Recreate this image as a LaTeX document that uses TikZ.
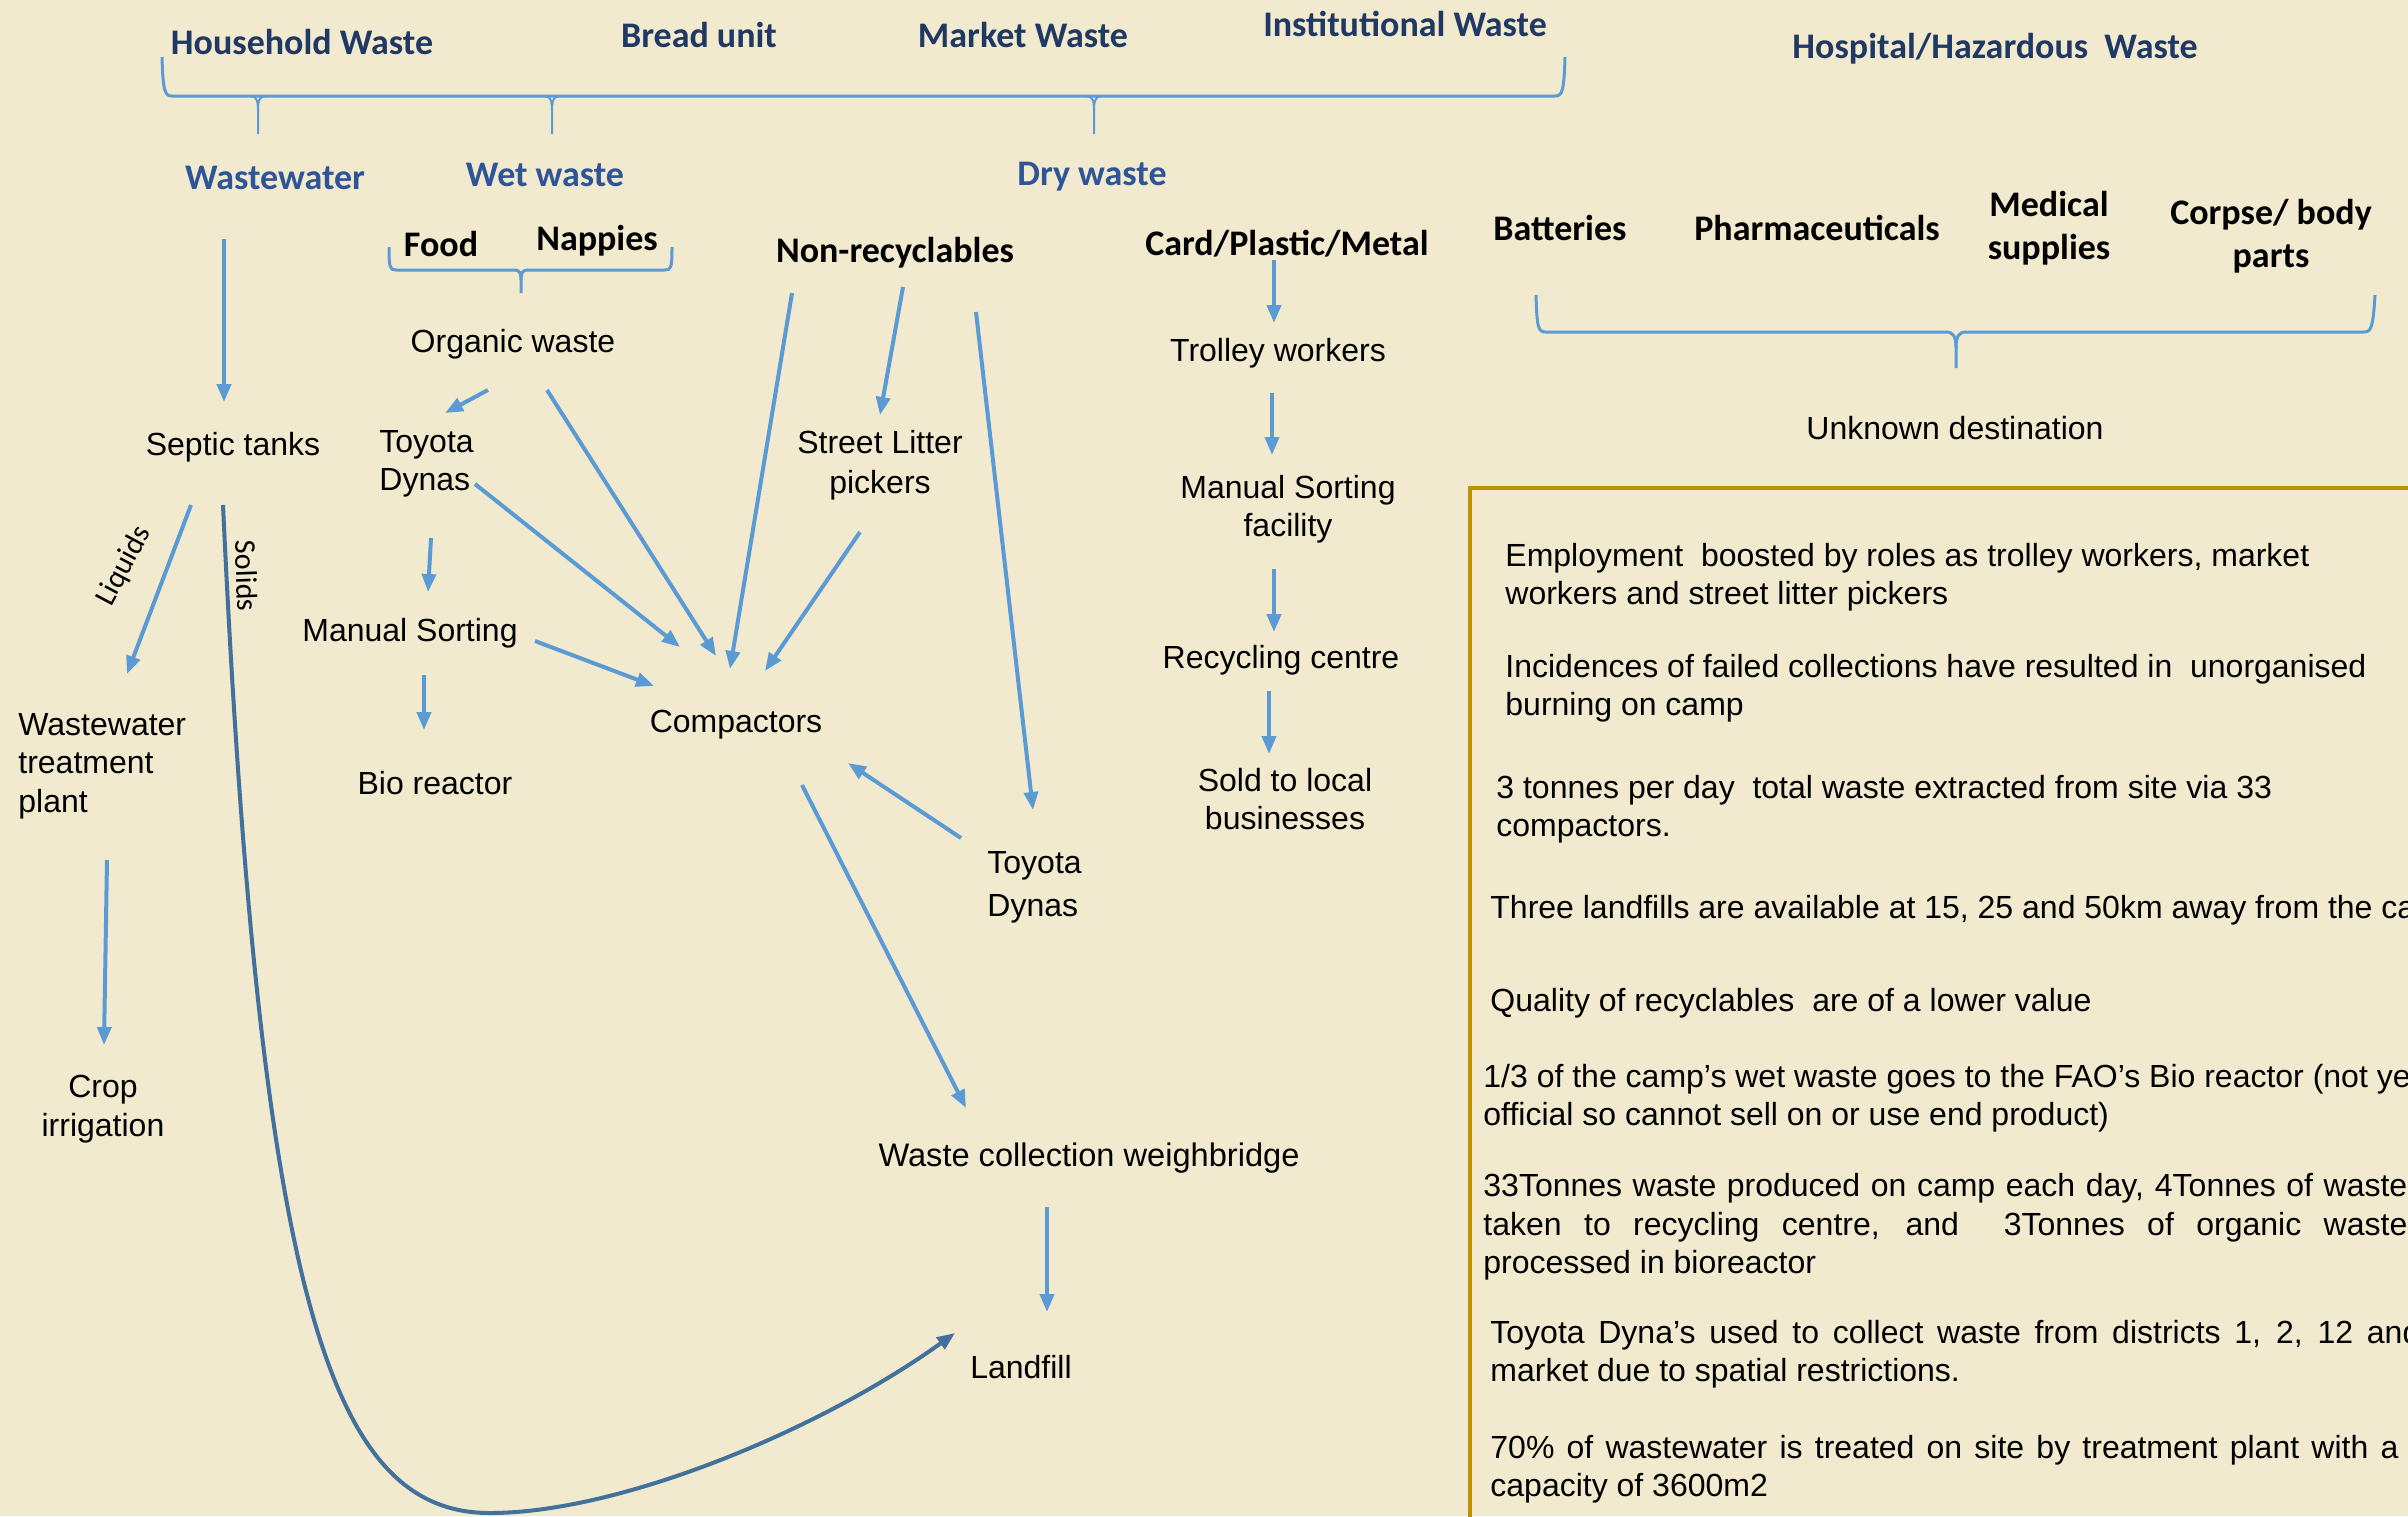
\documentclass[tikz,border=0pt]{standalone}
\usepackage{fontspec}
\setmainfont{Liberation Sans}
\newfontfamily\carlito{Carlito}
\usetikzlibrary{arrows.meta,calc}
\definecolor{bgcol}{HTML}{F2EACE}
\definecolor{navy}{HTML}{1F3864}
\definecolor{midblue}{HTML}{2E5597}
\definecolor{arrowblue}{HTML}{5B9BD5}
\definecolor{solidsblue}{HTML}{41719C}
\definecolor{gold}{HTML}{BF9000}
\begin{document}
\begin{tikzpicture}[x=0.5pt,y=-0.5pt,
  hd/.style={font=\carlito\bfseries\fontsize{18}{21.5}\selectfont, text=navy, inner sep=0pt},
  hdb/.style={hd, text=midblue},
  sub/.style={hd, text=black, align=center},
  txt/.style={font=\fontsize{16}{19.2}\selectfont, inner sep=0pt, align=center, yshift=-1.5pt},
  ltxt/.style={txt, align=left, anchor=west},
  note/.style={font=\fontsize{16}{19.25}\selectfont, inner sep=0pt, align=left, anchor=west, yshift=-1pt},
  rot/.style={font=\carlito\fontsize{15}{18}\selectfont, inner sep=0pt},
  arr/.style={draw=arrowblue, line width=2pt, -{Triangle[length=9pt,width=7pt]}},
  bracel/.style={draw=arrowblue, line width=1.5pt},
  tick/.style={draw=arrowblue, line width=1pt},
  solidsarr/.style={draw=solidsblue, line width=2pt, -{Triangle[length=9pt,width=7pt]}},
  notebox/.style={draw=gold, line width=2pt}
]
\useasboundingbox (0,0) rectangle (2408,1516);
\clip (0,0) rectangle (2408,1516);
\fill[bgcol] (0,0) rectangle (2408,1516);

% ---- top headings
\node[hd] (hh) at (302,42) {Household Waste};
\node[hd] (bread) at (699,35) {Bread unit};
\node[hd] (market) at (1023,35) {Market Waste};
\node[hd] (inst) at (1405,24) {Institutional Waste};
\node[hd] (hosp) at (1995,49) {Hospital/Hazardous~ Waste};

% top brace
\draw[bracel] (162,57) .. controls (163,92) and (165,96) .. (172,96) -- (1555,96) .. controls (1562,96) and (1564,92) .. (1565,57);
\foreach \tx in {258,552,1094}{
  \draw[tick] (\tx-8,96) .. controls (\tx-2,96) and (\tx,100) .. (\tx,110) -- (\tx,134);
  \draw[tick] (\tx+8,96) .. controls (\tx+2,96) and (\tx,100) .. (\tx,110);
}

% ---- second row
\node[hdb] (ww) at (275,178) {Wastewater};
\node[hdb] (wet) at (545,175) {Wet waste};
\node[hdb] (dry) at (1092,177) {Dry waste};

\node[sub] (food) at (441,244) {Food};
\node[sub] (napp) at (597,241) {Nappies};
\node[sub] (nonrec) at (895,253) {Non-recyclables};
\node[sub] (card) at (1287,244) {Card/Plastic/Metal};

% food/nappies brace
\draw[bracel] (389,247) .. controls (389,268) and (390,270) .. (396,270) -- (514,270) .. controls (519,270) and (521,272) .. (521,280) -- (521,293);
\draw[bracel] (521,280) .. controls (521,272) and (523,270) .. (528,270) -- (665,270) .. controls (671,270) and (672,268) .. (672,247);

% ---- hospital
\node[sub] (batt) at (1560,228) {Batteries};
\node[sub] (pharm) at (1817,228) {Pharmaceuticals};
\node[sub] (med) at (2049,228) {Medical\\supplies};
\node[sub] (corpse) at (2271,236) {Corpse/ body\\parts};
\draw[bracel] (1536,295) .. controls (1537,328) and (1538,332) .. (1546,332) -- (1946,332) .. controls (1953,332) and (1956,336) .. (1956,348) -- (1956,368);
\draw[bracel] (1956,348) .. controls (1956,336) and (1959,332) .. (1966,332) -- (2364,332) .. controls (2371,332) and (2373,328) .. (2375,295);
\node[txt] (unknown) at (1955,425) {Unknown destination};

% ---- body nodes
\node[txt] (septic) at (233,444) {Septic tanks};
\node[ltxt] (wwtp) at (18,763) {Wastewater\\treatment\\plant};
\node[txt] (crop) at (103,1106) {Crop\\irrigation};
\node[txt] (orgw) at (513,341) {Organic waste};
\node[ltxt] (td1) at (379,461) {Toyota\\Dynas};
\node[txt] (ms1) at (410,630) {Manual Sorting};
\node[txt] (bio) at (435,780) {Bio reactor};
\node[txt] (comp) at (736,722) {Compactors};
\node[txt, font=\fontsize{16}{20}\selectfont] (slp) at (880,462) {Street Litter\\pickers};
\node[ltxt, font=\fontsize{16}{21.5}\selectfont] (td2) at (987,884) {Toyota\\Dynas};
\node[txt, font=\fontsize{16.3}{19.2}\selectfont] (wcw) at (1089,1155) {Waste collection weighbridge};
\node[txt] (landfill) at (1021,1364) {Landfill};
\node[txt] (trolley) at (1278,350) {Trolley workers};
\node[txt] (msf) at (1288,506) {Manual Sorting\\facility};
\node[txt] (recyc) at (1281,657) {Recycling centre};
\node[txt] (sold) at (1285,796) {Sold to local\\businesses};

\node[rot, rotate=62] (liq) at (124,566) {Liquids};
\node[rot, rotate=-88] (sol) at (247,576) {Solids};

% ---- arrows
\draw[arr] ($(ww)+(-51,61)$) -- ($(septic)+(-9,-45)$);
\draw[arr] ($(septic)+(-42,58)$) -- ($(wwtp.west)+(109,-92)$);
\draw[arr] ($(wwtp.west)+(89,94)$) -- ($(crop)+(1,-64)$);
\coordinate (sbottom) at (490,1513);
\draw[solidsarr] ($(septic)+(-10,58)$) .. controls (260,1300) and (330,1513) .. (sbottom) .. controls (620,1513) and (820,1430) .. ($(landfill)+(-66,-34)$);

\draw[arr] ($(orgw)+(-25,46)$) -- ($(td1.west)+(66,-51)$);
\draw[arr] ($(orgw)+(34,46)$) -- ($(comp)+(-20,-69)$);
\draw[arr] ($(td1.west)+(96,20)$) -- ($(comp)+(-56,-78)$);
\draw[arr] ($(td1.west)+(52,74)$) -- ($(ms1)+(18,-41)$);
\draw[arr] ($(ms1)+(125,8)$) -- ($(comp)+(-82,-39)$);
\draw[arr] ($(ms1)+(14,42)$) -- ($(bio)+(-11,-53)$);
\draw[arr] ($(nonrec)+(-103,40)$) -- ($(comp)+(-6,-56)$);
\draw[arr] ($(nonrec)+(8,34)$) -- ($(slp)+(0,-50)$);
\draw[arr] ($(slp)+(-20,67)$) -- ($(comp)+(29,-54)$);
\draw[arr] ($(nonrec)+(81,59)$) -- ($(td2.west)+(46,-77)$);
\draw[arr] ($(td2.west)+(-26,-49)$) -- ($(comp)+(112,38)$);
\draw[arr] ($(comp)+(66,60)$) -- ($(wcw)+(-123,-50)$);
\draw[arr] ($(wcw)+(-42,49)$) -- ($(landfill)+(26,-55)$);
\draw[arr] ($(card)+(-13,16)$) -- ($(trolley)+(-4,-30)$);
\draw[arr] ($(trolley)+(-6,40)$) -- ($(msf)+(-16,-54)$);
\draw[arr] ($(msf)+(-14,60)$) -- ($(recyc)+(-7,-28)$);
\draw[arr] ($(recyc)+(-12,31)$) -- ($(sold)+(-16,-45)$);

% ---- notes box
\draw[notebox] (1470,488) rectangle (2440,1550);
\node[note] (n1) at (1505,575) {Employment~ boosted by roles as trolley workers, market\\workers and street litter pickers};
\node[note] (n2) at (1505,686) {Incidences of failed collections have resulted in~ unorganised\\burning on camp};
\node[note] (n3) at (1496,807) {3 tonnes per day~ total waste extracted from site via 33\\compactors.};
\node[note] (n4) at (1490,908) {Three landfills are available at 15, 25 and 50km away from the camp};
\node[note] (n5) at (1490,1001) {Quality of recyclables~ are of a lower value};
\node[note] (n6) at (1483,1096) {1/3 of the camp’s wet waste goes to the FAO’s Bio reactor (not yet\\official so cannot sell on or use end product)};
\node[note] (n7) at (1483,1225) {\makebox[462pt][s]{33Tonnes waste produced on camp each day, 4Tonnes of waste}\\\makebox[462pt][s]{taken to recycling centre, and~ 3Tonnes of organic waste}\\processed in bioreactor};
\node[note] (n8) at (1490,1352) {\makebox[465pt][s]{Toyota Dyna’s used to collect waste from districts 1, 2, 12 and}\\market due to spatial restrictions.};
\node[note] (n9) at (1490,1467) {\makebox[454pt][s]{70\% of wastewater is treated on site by treatment plant with a}\\capacity of 3600m2};
\end{tikzpicture}
\end{document}
